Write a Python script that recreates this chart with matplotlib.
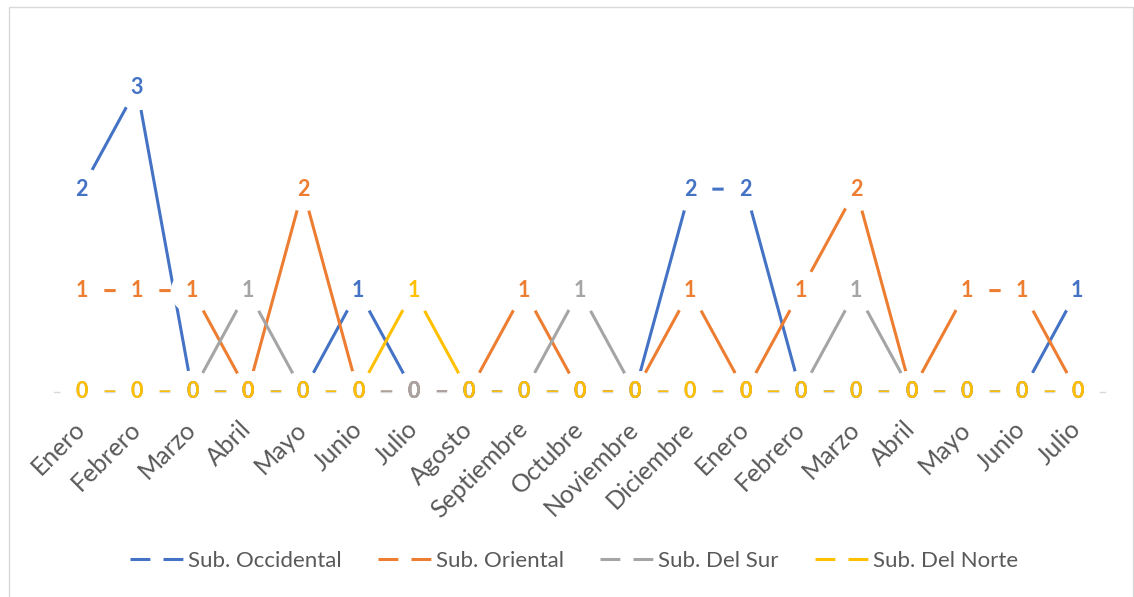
import matplotlib
matplotlib.use("Agg")
import matplotlib.pyplot as plt
from matplotlib.lines import Line2D
from matplotlib.patches import Rectangle

# Data
months = ["Enero", "Febrero", "Marzo", "Abril", "Mayo", "Junio", "Julio", "Agosto",
          "Septiembre", "Octubre", "Noviembre", "Diciembre", "Enero", "Febrero",
          "Marzo", "Abril", "Mayo", "Junio", "Julio"]
occidental = [2, 3, 0, 0, 0, 1, 0, 0, 0, 0, 0, 2, 2, 0, 0, 0, 0, 0, 1]
oriental = [1, 1, 1, 0, 2, 0, 0, 0, 1, 0, 0, 1, 0, 1, 2, 0, 1, 1, 0]
del_sur = [0, 0, 0, 1, 0, 0, 0, 0, 0, 1, 0, 0, 0, 0, 1, 0, 0, 0, 0]
del_norte = [0, 0, 0, 0, 0, 0, 1, 0, 0, 0, 0, 0, 0, 0, 0, 0, 0, 0, 0]

series_names = ["Sub. Occidental", "Sub. Oriental", "Sub. Del Sur", "Sub. Del Norte"]
series_values = [occidental, oriental, del_sur, del_norte]
colors = ["#4472C4", "#ED7D31", "#A5A5A5", "#FFC000"]

text_color = "#595959"
plt.rcParams["font.family"] = ["Lato", "DejaVu Sans"]

W, H = 1134, 597
fig = plt.figure(figsize=(W / 100, H / 100), dpi=100)
ax = fig.add_axes([54 / W, (H - 392) / H, (1105 - 54) / W, (392 - 37) / H])

x = list(range(len(months)))

# lines
for vals, c in zip(series_values, colors):
    ax.plot(x, vals, color=c, lw=2.2, zorder=2, solid_capstyle="butt")

# white discs behind the data labels (cut the lines like Excel does)
for vals in series_values:
    ax.plot(x, vals, ls="none", marker="o", ms=31.5, mfc="white", mec="none",
            zorder=3, clip_on=False)

# data labels
for vals, c in zip(series_values, colors):
    for xi, v in zip(x, vals):
        ax.text(xi, v, str(v), color=c, fontsize=15.5, fontweight="bold",
                ha="center", va="center", zorder=4)

ax.set_xlim(-0.5, len(months) - 0.5)
ax.set_ylim(0, 3.5)
ax.set_yticks([])
ax.set_xticks(x)
ax.set_xticklabels(months, rotation=45, ha="right", va="center",
                   rotation_mode="anchor", fontsize=18, color=text_color)
ax.tick_params(axis="x", length=0, pad=24)

for side in ["top", "right", "left"]:
    ax.spines[side].set_visible(False)
ax.spines["bottom"].set_color("#D9D9D9")
ax.spines["bottom"].set_linewidth(1.0)
ax.spines["bottom"].set_zorder(1)

# legend with broken line keys
handles = [Line2D([0], [0], color=c, lw=2.2, linestyle=(0, (6.5, 4.3)),
                  dash_capstyle="butt") for c in colors]
fig.legend(handles, series_names, loc="center", bbox_to_anchor=(574 / W, (H - 561) / H),
           ncol=4, frameon=False, fontsize=16, labelcolor=text_color,
           handlelength=2.4, handletextpad=0.2, columnspacing=1.65)

# chart border
fig.patches.append(Rectangle((8.5 / W, -0.01), (1132.5 - 8.5) / W, 1.01 - 6.5 / H,
                             transform=fig.transFigure, fill=False,
                             edgecolor="#D9D9D9", lw=1.0))

fig.savefig("out.png", dpi=100)
